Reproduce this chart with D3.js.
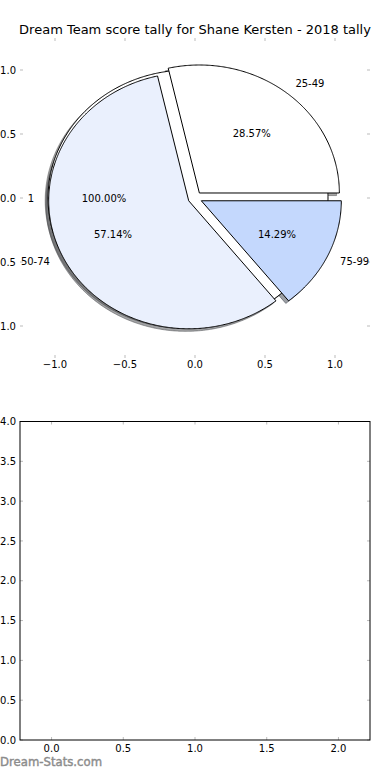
<!DOCTYPE html>
<html>
<head>
<meta charset="utf-8">
<script src="https://cdn.jsdelivr.net/npm/d3@7"></script>
<style>
  html, body { margin: 0; padding: 0; background: #ffffff; }
  svg { display: block; }
  text { font-family: "DejaVu Sans", sans-serif; }
</style>
</head>
<body>
<script>
// ---- data ----
const title = "Dream Team score tally for Shane Kersten - 2018 tally";
const categories = ["25-49", "50-74", "75-99"];
const seriesValues = [2, 4, 1];
const sliceColors = ["#ffffff", "#eaf0fd", "#c4d8fd"];
const baseCategories = ["1"];
const baseValues = [1];
const baseColors = ["#ffffff"];
const pieXTicks = [-1.0, -0.5, 0.0, 0.5, 1.0];
const pieYTicks = [-1.0, -0.5, 0.0, 0.5, 1.0];
const barXTicks = [0.0, 0.5, 1.0, 1.5, 2.0];
const barYTicks = [0.0, 0.5, 1.0, 1.5, 2.0, 2.5, 3.0, 3.5, 4.0];
const footer = "Dream-Stats.com";

const W = 390, H = 780;
const svg = d3.select("body").append("svg").attr("width", W).attr("height", H);

const tickColor = "#bbbbbb";
const fmt = d3.format(".1f");

// ---- pie axes ----
const px = d3.scaleLinear().domain([-1.25, 1.25]).range([20, 370]);
const py = d3.scaleLinear().domain([-1.25, 1.25]).range([358, 38]);

svg.append("text").attr("x", 195).attr("y", 34).attr("text-anchor", "middle")
  .attr("font-size", 13).attr("fill", "#000").text(title);

const gPie = svg.append("g");
// ticks (no spines)
const tk = gPie.append("g").attr("stroke", tickColor).attr("stroke-width", 1);
pieXTicks.forEach(t => {
  tk.append("line").attr("x1", px(t)).attr("x2", px(t)).attr("y1", 38).attr("y2", 41);
  tk.append("line").attr("x1", px(t)).attr("x2", px(t)).attr("y1", 358).attr("y2", 355);
});
pieYTicks.forEach(t => {
  tk.append("line").attr("x1", 20).attr("x2", 23).attr("y1", py(t)).attr("y2", py(t));
  tk.append("line").attr("x1", 370).attr("x2", 367).attr("y1", py(t)).attr("y2", py(t));
});
pieXTicks.forEach(t => {
  gPie.append("text").attr("x", px(t)).attr("y", 368).attr("text-anchor", "middle")
    .attr("font-size", 10).text(fmt(t));
});
pieYTicks.forEach(t => {
  gPie.append("text").attr("x", 16).attr("y", py(t)).attr("dy", "0.36em").attr("text-anchor", "end")
    .attr("font-size", 10).text(fmt(t));
});

const explode = 0.05;
const shadowOff = -0.02;
const pieGen = d3.pie().sort(null).startAngle(0).endAngle(2 * Math.PI);
const line = d3.line().x(d => px(d[0])).y(d => py(d[1]));

function wedgePoints(a0, a1, cx, cy, full) {
  const pts = [];
  const n = Math.max(8, Math.ceil((a1 - a0) / (Math.PI / 360)));
  if (!full) pts.push([cx, cy]);
  for (let i = 0; i <= n; i++) {
    const a = a0 + (a1 - a0) * i / n;
    pts.push([cx + Math.cos(a), cy + Math.sin(a)]);
  }
  return pts;
}
function shadeColor(c) {
  const r = d3.rgb(c);
  return d3.rgb(r.r * 0.3, r.g * 0.3, r.b * 0.3).toString();
}

function buildPie(values, labels, colors) {
  return pieGen(values).map((d, i) => {
    const mid = (d.startAngle + d.endAngle) / 2;
    const full = (d.endAngle - d.startAngle) >= 2 * Math.PI - 1e-9;
    const cx = explode * Math.cos(mid), cy = explode * Math.sin(mid);
    return { d, i, mid, full, cx, cy, label: labels[i], color: colors[i],
      pct: (100 * d.value / d3.sum(values)).toFixed(2) + "%" };
  });
}
const basePie = buildPie(baseValues, baseCategories, baseColors);
const mainPie = buildPie(seriesValues, categories, sliceColors);
const allWedges = basePie.concat(mainPie);

// shadows first (lower z-order)
allWedges.forEach(w => {
  const pts = wedgePoints(w.d.startAngle, w.d.endAngle, w.cx + shadowOff, w.cy + shadowOff, w.full);
  gPie.append("path").attr("d", line(pts) + "Z")
    .attr("fill", shadeColor(w.color)).attr("fill-opacity", 0.5)
    .attr("stroke", shadeColor(w.color)).attr("stroke-opacity", 0.5).attr("stroke-width", 1);
});
// wedges
allWedges.forEach(w => {
  const pts = wedgePoints(w.d.startAngle, w.d.endAngle, w.cx, w.cy, w.full);
  gPie.append("path").attr("d", line(pts) + "Z")
    .attr("fill", w.color).attr("stroke", "#000").attr("stroke-width", 1)
    .attr("stroke-linejoin", "miter");
});
// labels
allWedges.forEach(w => {
  const lx = w.cx + 1.1 * Math.cos(w.mid), ly = w.cy + 1.1 * Math.sin(w.mid);
  gPie.append("text").attr("x", px(lx)).attr("y", py(ly)).attr("dy", "0.36em")
    .attr("text-anchor", lx < 0 ? "end" : "start").attr("font-size", 10).text(w.label);
  const tx = w.cx + 0.6 * Math.cos(w.mid), ty = w.cy + 0.6 * Math.sin(w.mid);
  gPie.append("text").attr("x", px(tx)).attr("y", py(ty)).attr("dy", "0.36em")
    .attr("text-anchor", "middle").attr("font-size", 10).text(w.pct);
});

// ---- bottom (empty) axes ----
const bx = d3.scaleLinear().domain([-0.22, 2.22]).range([20, 370]);
const by = d3.scaleLinear().domain([0, 4]).range([740, 421.5]);
const gB = svg.append("g");
const tk2 = gB.append("g").attr("stroke", tickColor).attr("stroke-width", 1);
barXTicks.forEach(t => {
  tk2.append("line").attr("x1", bx(t)).attr("x2", bx(t)).attr("y1", 740).attr("y2", 737);
  tk2.append("line").attr("x1", bx(t)).attr("x2", bx(t)).attr("y1", 421.5).attr("y2", 424.5);
  gB.append("text").attr("x", bx(t)).attr("y", 752).attr("text-anchor", "middle")
    .attr("font-size", 10).text(fmt(t));
});
barYTicks.forEach(t => {
  tk2.append("line").attr("x1", 20).attr("x2", 23).attr("y1", by(t)).attr("y2", by(t));
  tk2.append("line").attr("x1", 370).attr("x2", 367).attr("y1", by(t)).attr("y2", by(t));
  gB.append("text").attr("x", 16).attr("y", by(t)).attr("dy", "0.36em").attr("text-anchor", "end")
    .attr("font-size", 10).text(fmt(t));
});
gB.append("rect").attr("x", 20).attr("y", 421.5).attr("width", 350).attr("height", 318.5)
  .attr("fill", "none").attr("stroke", "#000").attr("stroke-width", 1);

svg.append("text").attr("x", 0).attr("y", 766).attr("font-size", 11.7)
  .attr("fill", "#8c8c8c").attr("stroke", "#8c8c8c").attr("stroke-width", 0.4)
  .text(footer);
</script>
</body>
</html>
